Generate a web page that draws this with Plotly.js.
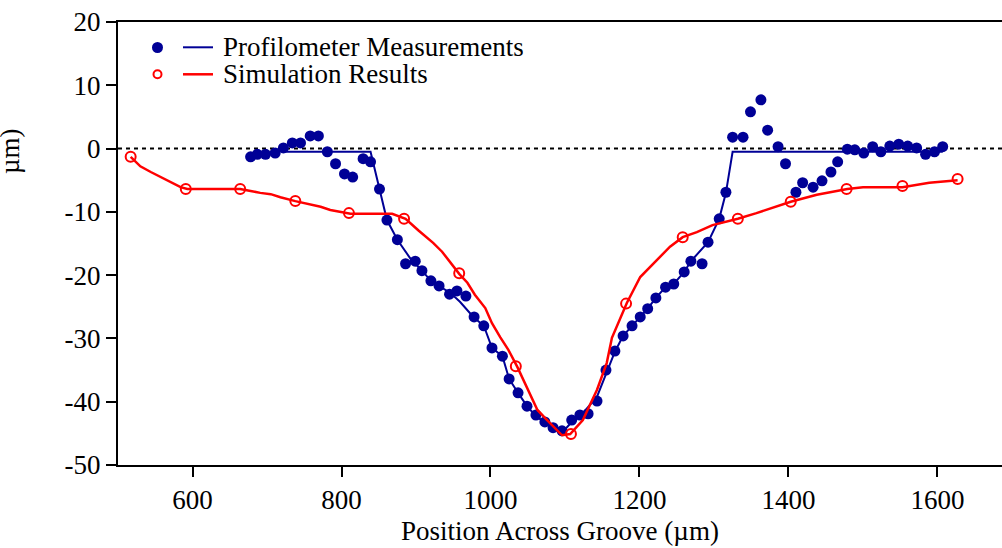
<!DOCTYPE html>
<html>
<head>
<meta charset="utf-8">
<script src="https://cdn.plot.ly/plotly-3.0.1.min.js"></script>
<style>html,body{margin:0;padding:0;background:#fff;}#chart{width:1002px;height:548px;}</style>
</head>
<body>
<div id="chart"></div>
<script>
// Profilometer measurement points (µm)
const measX = [678,687,698,711,722,734,745,758,769,781,792,804,815,829,839,851,861,875,886,899,908,920,931,945,955,967,978,991,1002,1016,1025,1037,1049,1061,1073,1084,1096,1109,1120,1131,1143,1155,1167,1178,1190,1201,1211,1222,1235,1246,1260,1269,1284,1292,1307,1316,1325,1339,1349,1363,1372,1386,1396,1410,1419,1433,1445,1457,1466,1479,1489,1501,1513,1524,1536,1548,1560,1572,1584,1596,1607];
const measY = [-1.3,-0.9,-0.9,-0.7,0.1,0.9,0.9,2.0,2.0,-0.5,-2.4,-4.0,-4.5,-1.6,-2.1,-6.4,-11.3,-14.4,-18.2,-17.8,-19.3,-20.9,-21.7,-23.0,-22.5,-23.3,-26.6,-28.0,-31.5,-32.8,-36.4,-38.6,-40.7,-42.1,-43.2,-44.1,-44.6,-42.9,-42.1,-41.9,-39.9,-35.0,-32.0,-29.6,-28.0,-26.6,-25.3,-23.6,-21.9,-21.4,-19.5,-17.8,-18.2,-14.8,-11.1,-6.9,1.8,1.8,5.8,7.7,2.9,0.3,-2.4,-6.9,-5.4,-6.1,-5.1,-3.7,-2.1,-0.1,-0.2,-0.7,0.3,-0.5,0.4,0.7,0.4,0.1,-0.9,-0.5,0.3];

// Profilometer profile line
const profX = [722,839,851,861,875,892,908,920,932,946,959,977,991,1002,1016,1025,1037,1049,1062,1084,1096,1109,1124,1143,1156,1167,1178,1190,1201,1211,1222,1235,1246,1260,1269,1292,1307,1316,1325,1607];
const profY = [-0.5,-0.5,-6.4,-11.3,-14.4,-17.3,-19.3,-20.9,-21.8,-22.8,-24.2,-26.6,-28.0,-31.5,-32.8,-36.4,-38.6,-40.7,-42.4,-44.1,-44.9,-43.2,-41.8,-39.2,-35.5,-32.1,-29.6,-28.0,-26.6,-25.3,-23.6,-21.9,-21.4,-19.5,-17.8,-14.8,-11.1,-7.0,-0.5,-0.5];

// Simulation curve
const simLineX = [517,530,544,557,571,584,593,664,678,691,705,718,738,758,772,785,798,812,868,886,903,923,935,946,958,969,979,993,1002,1013,1024,1036,1049,1063,1076,1096,1107,1124,1143,1156,1163,1183,1201,1223,1241,1258,1277,1298,1317,1332,1357,1403,1438,1479,1500,1553,1589,1627];
const simLineY = [-1.3,-2.8,-3.7,-4.5,-5.3,-6.1,-6.4,-6.4,-6.7,-7.0,-7.2,-7.7,-8.3,-8.8,-9.2,-9.7,-10.0,-10.3,-10.3,-11.1,-12.9,-14.9,-16.3,-17.9,-19.8,-21.2,-23.1,-25.2,-27.6,-29.8,-31.8,-34.5,-37.7,-41.3,-42.9,-45.3,-45.1,-42.9,-38.1,-33.9,-29.9,-24.4,-20.3,-17.6,-15.5,-14.0,-13.2,-12.1,-11.6,-11.1,-10.2,-8.4,-7.3,-6.4,-6.1,-6.1,-5.4,-5.0];

// Simulation result markers
const simX = [517,591,664,738,810,884,958,1034,1108,1182,1258,1332,1403,1478,1553,1627];
const simY = [-1.3,-6.4,-6.4,-8.3,-10.2,-11.1,-19.7,-34.4,-45.1,-24.5,-14.0,-11.1,-8.4,-6.4,-5.9,-4.8];

// Ticks and labels
const xTicks = [600,800,1000,1200,1400,1600];
const yTicks = [-50,-40,-30,-20,-10,0,10,20];
const yTickText = ['-50','-40','-30','-20','-10','0','10','20'];
const seriesNames = ['Profilometer Measurements','Simulation Results'];
const xTitle = 'Position Across Groove (µm)';
const yTitleVisible = 'µm)';

const BLUE = '#000096';
const RED = '#ff0000';
const FONT = '"Liberation Serif", "Times New Roman", Times, serif';
const FS = 27;

const traces = [
  {x: profX, y: profY, type: 'scatter', mode: 'lines', line: {color: BLUE, width: 2}, showlegend: false, hoverinfo: 'skip'},
  {x: measX, y: measY, type: 'scatter', mode: 'markers', marker: {color: BLUE, size: 11}, showlegend: false},
  {x: simLineX, y: simLineY, type: 'scatter', mode: 'lines', line: {color: RED, width: 2.5}, showlegend: false, hoverinfo: 'skip'},
  {x: simX, y: simY, type: 'scatter', mode: 'markers', marker: {symbol: 'circle-open', color: RED, size: 10, line: {width: 2, color: RED}}, showlegend: false}
];

const layout = {
  width: 1002, height: 548,
  margin: {l: 118, r: 0, t: 22, b: 83, pad: 0},
  paper_bgcolor: '#fff', plot_bgcolor: '#fff',
  font: {family: FONT, size: FS, color: '#000'},
  showlegend: false,
  xaxis: {
    range: [500, 1686.6], tickvals: xTicks, ticktext: xTicks.map(String),
    showline: true, linecolor: '#000', linewidth: 2, mirror: true,
    ticks: 'outside', ticklen: 10, tickwidth: 2, tickcolor: '#000',
    showgrid: false, zeroline: false,
    tickfont: {family: FONT, size: FS, color: '#000'},
    title: {text: xTitle, font: {family: FONT, size: FS, color: '#000'}, standoff: 7}
  },
  yaxis: {
    range: [-50, 20], tickvals: yTicks, ticktext: yTickText,
    showline: true, linecolor: '#000', linewidth: 2, mirror: false,
    ticks: 'outside', ticklen: 10, tickwidth: 2, tickcolor: '#000',
    showgrid: false, zeroline: false,
    tickfont: {family: FONT, size: FS, color: '#000'}
  },
  shapes: [
    {type: 'line', xref: 'paper', yref: 'y', x0: 0, x1: 1, y0: 0, y1: 0, layer: 'below',
     line: {color: '#000', width: 2, dash: '4px,4px'}},
    // legend symbols
    {type: 'circle', xref: 'paper', yref: 'paper', xsizemode: 'pixel', ysizemode: 'pixel',
     xanchor: 0, yanchor: 1, x0: 34, x1: 45, y0: -20, y1: -31, fillcolor: BLUE, line: {color: BLUE, width: 0}},
    {type: 'line', xref: 'paper', yref: 'paper', xsizemode: 'pixel', ysizemode: 'pixel',
     xanchor: 0, yanchor: 1, x0: 65, x1: 95, y0: -25.3, y1: -25.3, line: {color: BLUE, width: 2}},
    {type: 'circle', xref: 'paper', yref: 'paper', xsizemode: 'pixel', ysizemode: 'pixel',
     xanchor: 0, yanchor: 1, x0: 35.5, x1: 43.5, y0: -48.3, y1: -56.3, fillcolor: 'rgba(0,0,0,0)', line: {color: RED, width: 2}},
    {type: 'line', xref: 'paper', yref: 'paper', xsizemode: 'pixel', ysizemode: 'pixel',
     xanchor: 0, yanchor: 1, x0: 65, x1: 95, y0: -52.3, y1: -52.3, line: {color: RED, width: 2.5}}
  ],
  annotations: [
    {xref: 'paper', yref: 'paper', x: 0, y: 1, xshift: 104, yshift: -25, xanchor: 'left', yanchor: 'middle',
     height: 26, borderpad: 0,
     showarrow: false, text: seriesNames[0], font: {family: FONT, size: FS, color: '#000'}},
    {xref: 'paper', yref: 'paper', x: 0, y: 1, xshift: 104, yshift: -52, xanchor: 'left', yanchor: 'middle',
     height: 26, borderpad: 0,
     showarrow: false, text: seriesNames[1], font: {family: FONT, size: FS, color: '#000'}},
    {xref: 'paper', yref: 'paper', x: 0, y: 1, xshift: -108, yshift: -129, xanchor: 'center', yanchor: 'middle',
     showarrow: false, textangle: -90, text: yTitleVisible, font: {family: FONT, size: FS, color: '#000'}}
  ]
};

Plotly.newPlot('chart', traces, layout, {displayModeBar: false, staticPlot: true});
</script>
</body>
</html>
